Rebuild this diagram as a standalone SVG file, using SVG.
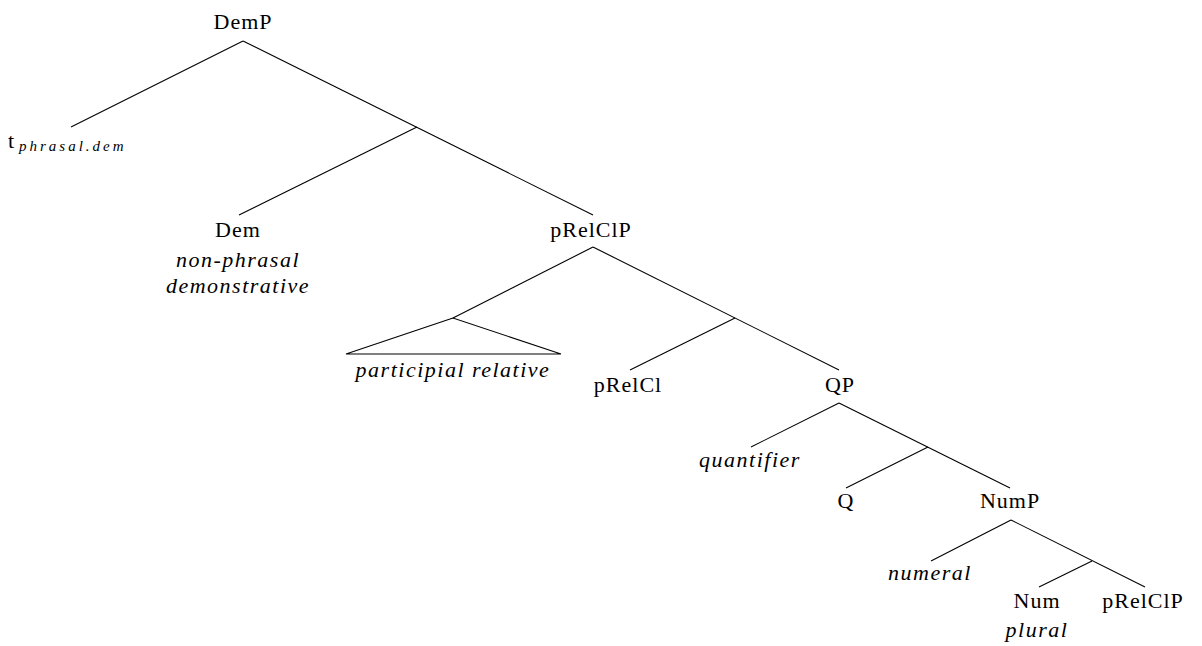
<svg xmlns="http://www.w3.org/2000/svg" width="1202" height="646" viewBox="0 0 1202 646">
<style>
text{font-family:"Liberation Serif","Times New Roman",serif;font-size:22px;letter-spacing:1px;fill:#000;text-anchor:middle}
.i{font-style:italic;letter-spacing:1.5px}
.sub{font-style:italic;font-size:15px;letter-spacing:3px;text-anchor:start}
line,polygon{stroke:#000;stroke-width:1.1;fill:none}
</style>
<rect width="1202" height="646" fill="#fff"/>
<g id="connectors">
<line x1="243" y1="41" x2="71" y2="127"/>
<line x1="243" y1="41" x2="593" y2="215"/>
<line x1="417" y1="127" x2="239" y2="215"/>
<line x1="593" y1="247" x2="453" y2="318"/>
<line x1="593" y1="247" x2="839" y2="370"/>
<line x1="735" y1="318" x2="630" y2="370"/>
<line x1="839" y1="403" x2="751" y2="447"/>
<line x1="839" y1="403" x2="1010" y2="488"/>
<line x1="928" y1="447" x2="846" y2="488"/>
<line x1="1011" y1="520" x2="931" y2="561"/>
<line x1="1011" y1="520" x2="1145" y2="587"/>
<line x1="1092" y1="561" x2="1039" y2="587"/>
</g>
<g id="DemP"><text x="243" y="29">DemP</text></g>
<g id="t"><text x="8" y="148" style="text-anchor:start">t</text><text class="sub" x="19" y="151">phrasal.dem</text></g>
<g id="Dem"><text x="238" y="237">Dem</text><text class="i" x="238" y="267">non-phrasal</text><text class="i" x="238" y="293">demonstrative</text></g>
<g id="pRelClP1"><text x="591" y="237">pRelClP</text></g>
<g id="participial"><polygon points="453,318 346,354 561,354"/><text class="i" x="453" y="377">participial relative</text></g>
<g id="pRelCl"><text x="628" y="392">pRelCl</text></g>
<g id="QP"><text x="840" y="392">QP</text></g>
<g id="quantifier"><text class="i" x="750" y="467">quantifier</text></g>
<g id="Q"><text x="846" y="508">Q</text></g>
<g id="NumP"><text x="1010" y="508">NumP</text></g>
<g id="numeral"><text class="i" x="930" y="580">numeral</text></g>
<g id="Num"><text x="1037" y="608">Num</text><text class="i" x="1037" y="637">plural</text></g>
<g id="pRelClP2"><text x="1143" y="608">pRelClP</text></g>
</svg>
